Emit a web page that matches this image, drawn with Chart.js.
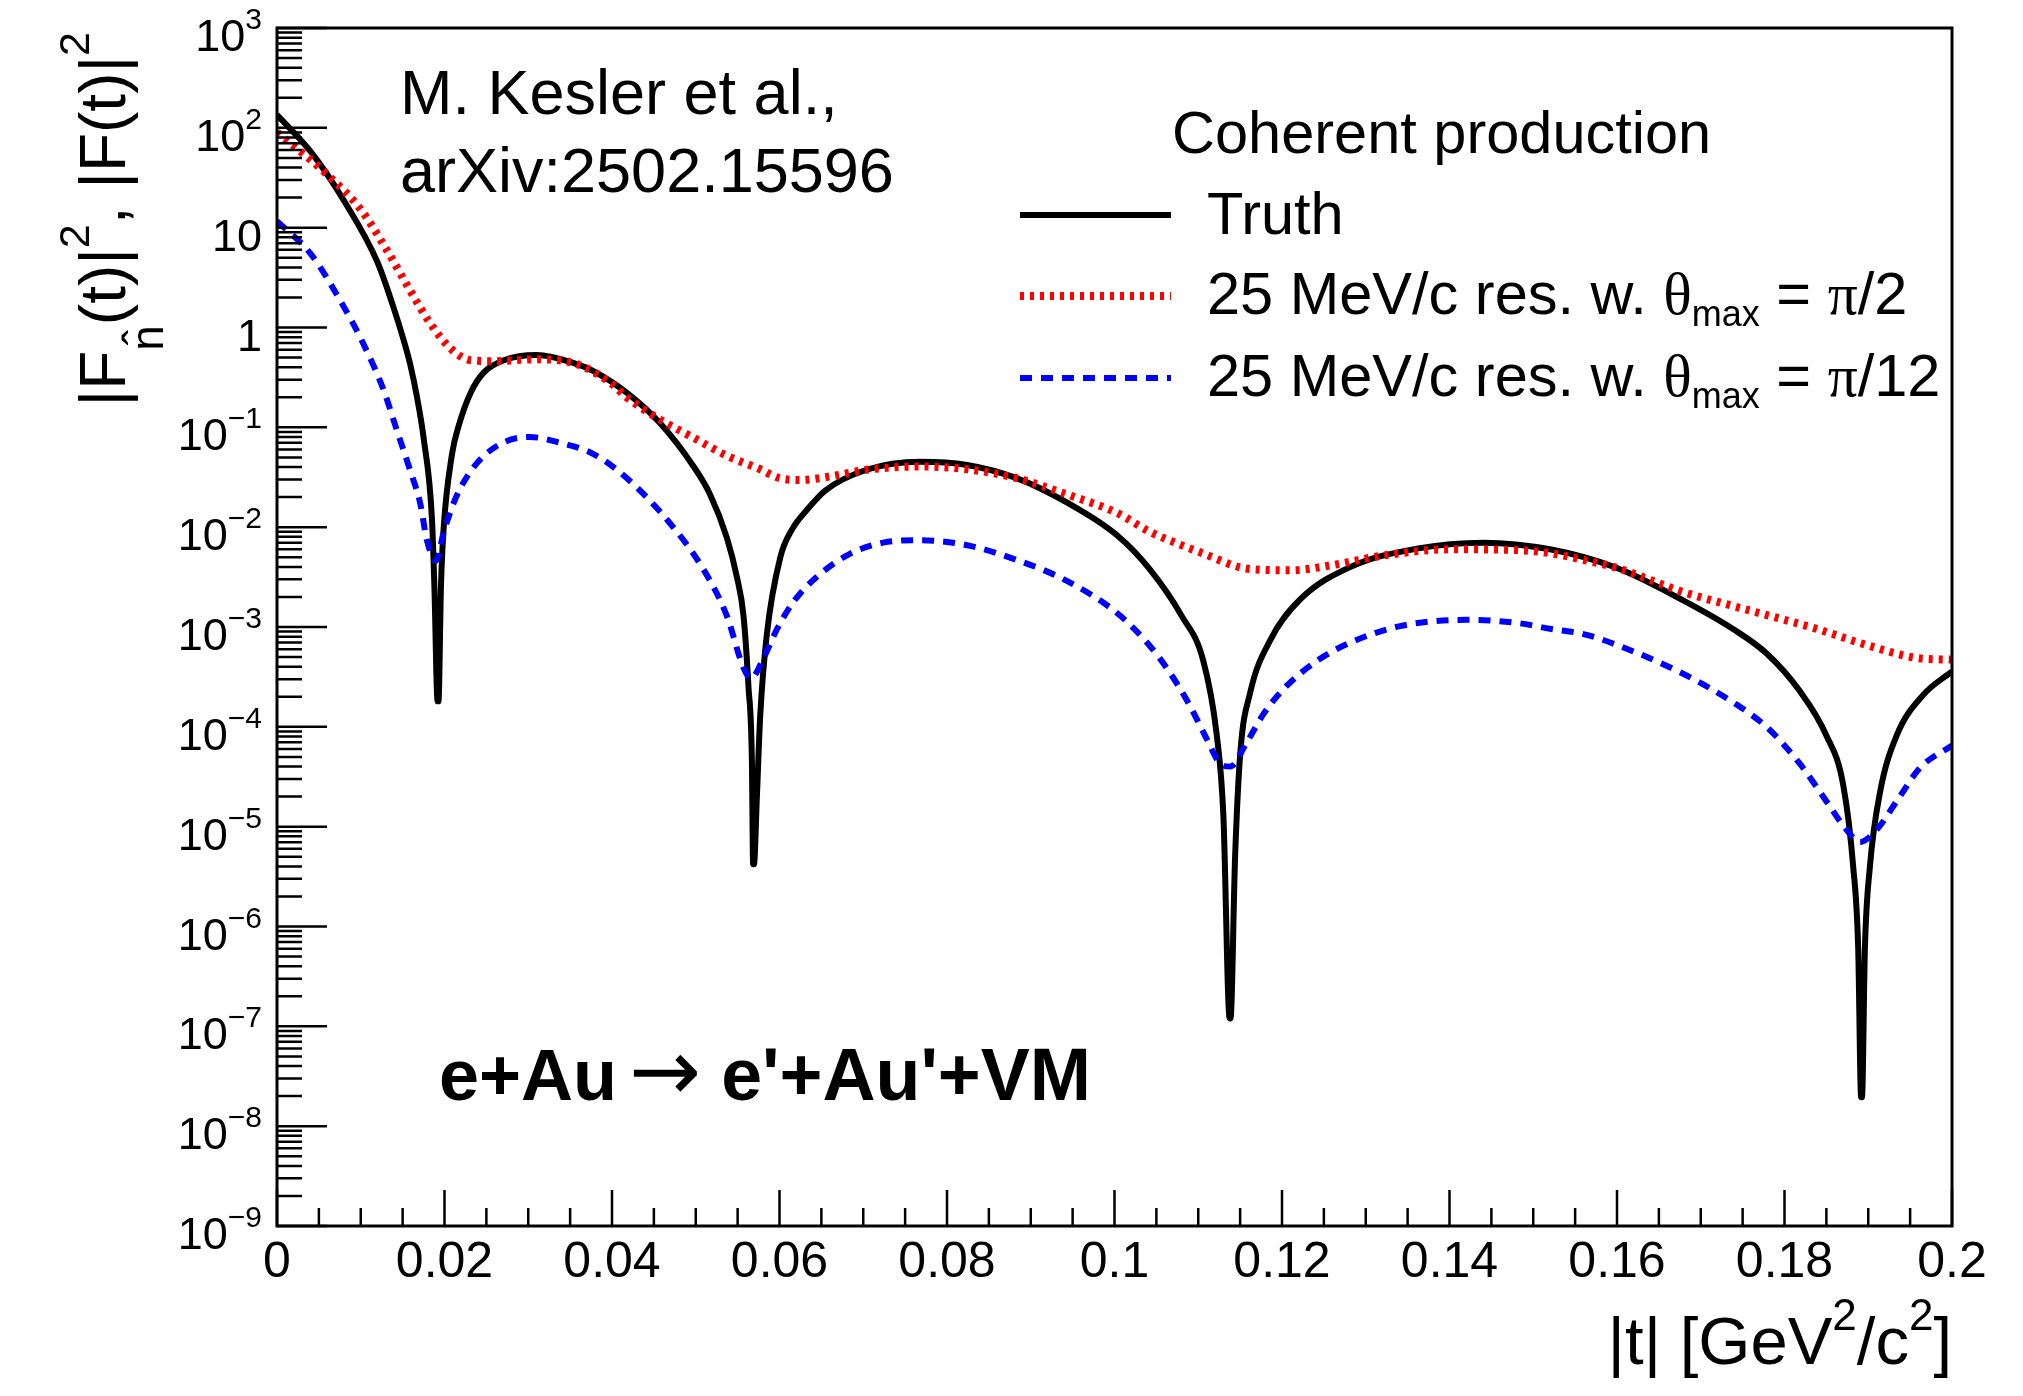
<!DOCTYPE html>
<html>
<head>
<meta charset="utf-8">
<script src="https://cdn.jsdelivr.net/npm/chart.js@4.4.1/dist/chart.umd.min.js"></script>
<style>
  html, body { margin: 0; padding: 0; background: #fff; }
  canvas { display: block; }
</style>
</head>
<body>
<canvas id="grafico" width="2023" height="1396"></canvas>
<script>
// [|t| (GeV^2/c^2), |F|^2]
const truth = [
  [0, 135], [0.004, 58], [0.008, 18.6], [0.012, 4.5], [0.0139, 1.6], [0.01512, 0.75],
  [0.0159, 0.43], [0.01672, 0.2], [0.01751, 0.078], [0.01851, 0.0118], [0.01879, 2.6e-3],
  [0.01918, 1.8e-4], [0.01928, 1.8e-4], [0.01958, 2.6e-3], [0.0199, 9.8e-3], [0.0209, 0.054],
  [0.0217, 0.104], [0.0231, 0.22], [0.0247, 0.355], [0.0271, 0.47],
  [0.031, 0.53], [0.0358, 0.43], [0.0378, 0.366], [0.04175, 0.223], [0.0457, 0.111],
  [0.0497, 0.041], [0.0517, 0.0214], [0.0537, 7.9e-3], [0.0549, 3.2e-3], [0.0557, 1.3e-3],
  [0.0563, 2.5e-4], [0.0567, 4.8e-5], [0.05685, 4.2e-6], [0.05695, 4.2e-6], [0.0573, 2e-5],
  [0.0577, 1.3e-4], [0.0585, 8.6e-4], [0.0601, 5.0e-3], [0.0615, 9.5e-3], [0.0633, 0.015],
  [0.0655, 0.0234], [0.0704, 0.0376], [0.0768, 0.0453], [0.0824, 0.042], [0.0883, 0.031],
  [0.0943, 0.0177], [0.1003, 8.3e-3], [0.1042, 3.8e-3], [0.108, 1.3e-3], [0.1106, 4.6e-4],
  [0.1122, 8.4e-5], [0.113, 1.3e-5], [0.11375, 1.2e-7], [0.11385, 1.2e-7], [0.1144, 5e-6],
  [0.115, 5.2e-5], [0.1162, 2.2e-4], [0.1186, 7.4e-4], [0.1222, 1.9e-3], [0.1282, 4.0e-3],
  [0.1361, 6.1e-3], [0.1441, 7.0e-3], [0.152, 6.0e-3], [0.16, 3.9e-3], [0.1679, 1.85e-3],
  [0.1739, 9.5e-4], [0.1779, 5.4e-4], [0.1818, 2.3e-4], [0.185, 8.2e-5], [0.187, 2.65e-5],
  [0.1882, 4e-6], [0.1888, 6e-7], [0.18915, 1.95e-8], [0.18925, 1.95e-8], [0.1896, 6e-7],
  [0.1902, 4e-6], [0.1914, 2.2e-5], [0.1934, 8.2e-5], [0.1966, 2.1e-4], [0.2, 3.6e-4]
];

const resPi2 = [
  [0, 90], [0.002, 66], [0.006, 34], [0.00995, 15.4], [0.0131, 6.0], [0.0159, 2.34],
  [0.0183, 1.1], [0.0207, 0.62], [0.0231, 0.47], [0.0259, 0.46], [0.031, 0.48], [0.0358, 0.43],
  [0.0398, 0.28], [0.04175, 0.2], [0.0457, 0.12], [0.0497, 0.079], [0.0537, 0.052],
  [0.0577, 0.038], [0.06, 0.031], [0.0625, 0.0297], [0.0664, 0.0326], [0.0704, 0.0376],
  [0.0768, 0.0405], [0.0824, 0.038], [0.0883, 0.031], [0.0943, 0.0213], [0.1003, 0.0139],
  [0.1042, 9.0e-3], [0.1078, 6.7e-3], [0.1102, 5.6e-3], [0.1162, 3.8e-3], [0.121, 3.7e-3],
  [0.1262, 4.2e-3], [0.1321, 5.2e-3], [0.1401, 6.0e-3], [0.148, 5.9e-3], [0.152, 5.5e-3],
  [0.156, 4.7e-3], [0.16, 3.9e-3], [0.1679, 2.24e-3], [0.1759, 1.46e-3], [0.1838, 9.6e-4],
  [0.1898, 6.6e-4], [0.1958, 4.9e-4], [0.2, 4.7e-4]
];

const resPi12 = [
  [0, 11.6], [0.004, 5.5], [0.008, 1.6], [0.0103, 0.69], [0.0127, 0.24], [0.0143, 0.094],
  [0.0159, 0.037], [0.0171, 0.0173], [0.0179, 7.4e-3], [0.019, 4.6e-3], [0.0199, 8.9e-3],
  [0.0215, 0.021], [0.0239, 0.044], [0.0271, 0.071], [0.0302, 0.08], [0.0338, 0.07],
  [0.0378, 0.054], [0.04175, 0.031], [0.0469, 0.011], [0.0509, 3.8e-3], [0.0537, 1.3e-3],
  [0.0557, 3.9e-4], [0.0566, 3.05e-4], [0.0581, 4.9e-4], [0.0597, 9.5e-4],
  [0.0617, 1.8e-3], [0.0645, 3.2e-3], [0.0684, 5.4e-3], [0.0724, 7.0e-3], [0.0768, 7.4e-3],
  [0.0824, 6.6e-3], [0.0883, 4.7e-3], [0.0943, 2.9e-3], [0.1003, 1.38e-3], [0.1042, 6.5e-4],
  [0.1066, 3.5e-4], [0.109, 1.63e-4], [0.111, 7.6e-5], [0.1126, 4.3e-5], [0.1138, 4.0e-5],
  [0.1158, 7e-5], [0.1178, 1.35e-4], [0.1202, 2.4e-4], [0.1242, 4.6e-4], [0.1282, 7.0e-4],
  [0.1341, 1.02e-3], [0.1421, 1.18e-3], [0.148, 1.1e-3], [0.152, 9.6e-4], [0.156, 8.5e-4],
  [0.16, 6.6e-4], [0.1679, 3.4e-4], [0.1739, 1.75e-4], [0.1779, 9.9e-5], [0.1818, 4.3e-5],
  [0.185, 1.8e-5], [0.1874, 9.3e-6], [0.189, 7e-6], [0.191, 9.3e-6], [0.1934, 1.8e-5],
  [0.1962, 3.9e-5], [0.2, 6.5e-5]
];

const xTickValues = [0, 0.02, 0.04, 0.06, 0.08, 0.1, 0.12, 0.14, 0.16, 0.18, 0.2];
const xTickLabels = ['0', '0.02', '0.04', '0.06', '0.08', '0.1', '0.12', '0.14', '0.16', '0.18', '0.2'];
const yTickValues = [1e-9, 1e-8, 1e-7, 1e-6, 1e-5, 1e-4, 1e-3, 1e-2, 1e-1, 1, 10, 1e2, 1e3];
// [mantissa, exponent]
const yTickLabels = [
  ['10', '\u22129'], ['10', '\u22128'], ['10', '\u22127'], ['10', '\u22126'], ['10', '\u22125'],
  ['10', '\u22124'], ['10', '\u22123'], ['10', '\u22122'], ['10', '\u22121'], ['1', ''],
  ['10', ''], ['10', '2'], ['10', '3']
];

const SANS = '"Liberation Sans", Arial, Helvetica, sans-serif';
const SERIF = '"Liberation Serif", "Times New Roman", serif';
const DEJA = '"DejaVu Sans", sans-serif';

const pts = arr => arr.map(p => ({ x: p[0], y: p[1] }));

// draw a run of pieces: {t, size, dy, fam, bold} or {gap}
function rich(ctx, parts, x, y, align) {
  const font = p => (p.bold ? 'bold ' : '') + p.size + 'px ' + (p.fam || SANS);
  const width = p => {
    if (p.gap) return p.gap;
    ctx.font = font(p);
    return ctx.measureText(p.t).width;
  };
  let w = 0;
  parts.forEach(p => { w += width(p); });
  let cx = align === 'right' ? x - w : align === 'center' ? x - w / 2 : x;
  parts.forEach(p => {
    if (!p.gap) {
      ctx.font = font(p);
      ctx.fillText(p.t, cx, y + (p.dy || 0));
    }
    cx += width(p);
  });
  return w;
}

const estiloRoot = {
  id: 'estiloRoot',
  afterDraw(chart) {
    const { ctx, chartArea: a, scales: { x, y } } = chart;
    ctx.save();
    ctx.fillStyle = '#000';
    ctx.strokeStyle = '#000';
    ctx.textBaseline = 'alphabetic';

    // frame
    ctx.lineWidth = 3;
    ctx.strokeRect(a.left, a.top, a.right - a.left, a.bottom - a.top);

    // x ticks (inward)
    ctx.lineWidth = 2.5;
    const xMaj = 36, xMin = 18;
    ctx.beginPath();
    xTickValues.forEach((v, i) => {
      const px = x.getPixelForValue(v);
      ctx.moveTo(px, a.bottom); ctx.lineTo(px, a.bottom - xMaj);
      if (i < xTickValues.length - 1) {
        const step = (xTickValues[i + 1] - v) / 4;
        for (let k = 1; k < 4; k++) {
          const pm = x.getPixelForValue(v + k * step);
          ctx.moveTo(pm, a.bottom); ctx.lineTo(pm, a.bottom - xMin);
        }
      }
    });
    ctx.stroke();

    // y ticks (inward), minors at 2..9 per decade
    const yMaj = 50, yMin = 25;
    ctx.beginPath();
    yTickValues.forEach((v, i) => {
      const py = y.getPixelForValue(v);
      ctx.moveTo(a.left, py); ctx.lineTo(a.left + yMaj, py);
      if (i < yTickValues.length - 1) {
        for (let m = 2; m <= 9; m++) {
          const pm = y.getPixelForValue(v * m);
          ctx.moveTo(a.left, pm); ctx.lineTo(a.left + yMin, pm);
        }
      }
    });
    ctx.stroke();

    // x labels
    ctx.textAlign = 'left';
    xTickLabels.forEach((lab, i) => {
      rich(ctx, [{ t: lab, size: 50 }], x.getPixelForValue(xTickValues[i]), a.bottom + 51, 'center');
    });

    // y labels
    yTickLabels.forEach((lab, i) => {
      const py = y.getPixelForValue(yTickValues[i]);
      const parts = [{ t: lab[0], size: 45 }];
      if (lab[1]) parts.push({ t: lab[1], size: 30, dy: -22 });
      rich(ctx, parts, 262, py + 23, 'right');
    });

    // x title
    rich(ctx, [
      { t: '|t| [GeV', size: 67 }, { t: '2', size: 44, dy: -34 },
      { t: '/c', size: 67 }, { t: '2', size: 44, dy: -34 }, { t: ']', size: 67 }
    ], a.right, 1364, 'right');

    // y title (rotated)
    ctx.save();
    ctx.translate(125, a.top);
    ctx.rotate(-Math.PI / 2);
    rich(ctx, [
      { t: '|F', size: 64 }, { t: 'n\u0302', size: 46, dy: 38 }, { t: '(t)|', size: 64 },
      { t: '2', size: 43, dy: -36 }, { t: ', |F(t)|', size: 64 }, { t: '2', size: 43, dy: -36 }
    ], -4, 0, 'right');
    ctx.restore();

    // reference text
    rich(ctx, [{ t: 'M. Kesler et al.,', size: 63 }], 400, 114, 'left');
    rich(ctx, [{ t: 'arXiv:2502.15596', size: 63 }], 400, 192, 'left');

    // reaction
    rich(ctx, [
      { t: 'e+Au', size: 72, bold: true }, { gap: 12 }, { t: '\u2192', size: 86, fam: DEJA },
      { gap: 20 }, { t: "e'+Au'+VM", size: 73.5, bold: true }
    ], 439, 1100, 'left');

    // legend
    const lx0 = 1020, lx1 = 1171, tx = 1207;
    rich(ctx, [{ t: 'Coherent production', size: 59.5 }], 1172, 153, 'left');
    const theta = last => [
      { t: '25 MeV/c res. w. ', size: 59.5 }, { t: '\u03b8', size: 59.5, fam: SERIF },
      { t: 'max', size: 36, dy: 12 }, { t: ' = ', size: 59.5 }, { t: '\u03c0', size: 59.5, fam: SERIF },
      { t: last, size: 59.5 }
    ];
    const rows = [
      { y: 215, color: '#000', w: 6, dash: [], text: [{ t: 'Truth', size: 59.5 }], base: 234 },
      { y: 296, color: '#ff0000', w: 8, dash: [4, 6], base: 314, text: theta('/2') },
      { y: 378, color: '#0000ff', w: 6, dash: [12, 9], base: 396, text: theta('/12') }
    ];
    rows.forEach(r => {
      ctx.save();
      ctx.strokeStyle = r.color;
      ctx.lineWidth = r.w;
      ctx.setLineDash(r.dash);
      ctx.beginPath(); ctx.moveTo(lx0, r.y); ctx.lineTo(lx1, r.y); ctx.stroke();
      ctx.restore();
      rich(ctx, r.text, tx, r.base, 'left');
    });

    ctx.restore();
  }
};

new Chart(document.getElementById('grafico'), {
  type: 'line',
  data: {
    datasets: [
      { label: 'Truth', data: pts(truth), borderColor: '#000', borderWidth: 6, order: 2 },
      { label: '25 MeV/c res. w. θmax = π/2', data: pts(resPi2), borderColor: '#ff0000',
        borderWidth: 8, borderDash: [4, 6], order: 1 },
      { label: '25 MeV/c res. w. θmax = π/12', data: pts(resPi12), borderColor: '#0000ff',
        borderWidth: 6, borderDash: [12, 9], order: 0 }
    ]
  },
  options: {
    responsive: false,
    animation: false,
    layout: { padding: { left: 277, right: 71, top: 28, bottom: 170 } },
    elements: {
      point: { radius: 0 },
      line: { cubicInterpolationMode: 'monotone', fill: false, borderJoinStyle: 'round' }
    },
    scales: {
      x: { type: 'linear', min: 0, max: 0.2, display: false },
      y: { type: 'logarithmic', min: 1e-9, max: 1e3, display: false }
    },
    plugins: { legend: { display: false }, tooltip: { enabled: false } }
  },
  plugins: [estiloRoot]
});
</script>
</body>
</html>
